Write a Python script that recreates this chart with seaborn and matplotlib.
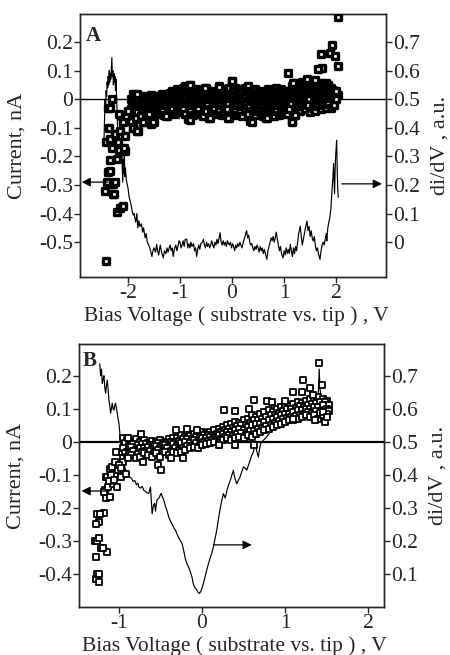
import numpy as np
import pandas as pd
import seaborn as sns
import matplotlib.pyplot as plt

# ---------------- Panel A data ----------------
# I-V scatter: main band, rows on two interleaved bias grids
a_band_v = [-1.95, -1.90, -1.85, -1.80, -1.75, -1.70, -1.65, -1.60, -1.55, -1.50,
            -1.45, -1.40, -1.35, -1.30, -1.25, -1.20, -1.15, -1.10, -1.05, -1.00,
            -0.95, -0.90, -0.85, -0.80, -0.75, -0.70, -0.65, -0.60, -0.55, -0.50,
            -0.45, -0.40, -0.35, -0.30, -0.25, -0.20, -0.15, -0.10, -0.05, 0.00,
            0.05, 0.10, 0.15, 0.20, 0.25, 0.30, 0.35, 0.40, 0.45, 0.50,
            0.55, 0.60, 0.65, 0.70, 0.75, 0.80, 0.85, 0.90, 0.95, 1.00,
            1.05, 1.10, 1.15, 1.20, 1.25, 1.30, 1.35, 1.40, 1.45, 1.50,
            1.55, 1.60, 1.65, 1.70, 1.75, 1.80, 1.85, 1.90, 1.95]
a_band_v2 = [-1.925, -1.875, -1.825, -1.775, -1.725, -1.675, -1.625, -1.575, -1.525, -1.475,
             -1.425, -1.375, -1.325, -1.275, -1.225, -1.175, -1.125, -1.075, -1.025, -0.975,
             -0.925, -0.875, -0.825, -0.775, -0.725, -0.675, -0.625, -0.575, -0.525, -0.475,
             -0.425, -0.375, -0.325, -0.275, -0.225, -0.175, -0.125, -0.075, -0.025, 0.025,
             0.075, 0.125, 0.175, 0.225, 0.275, 0.325, 0.375, 0.425, 0.475, 0.525,
             0.575, 0.625, 0.675, 0.725, 0.775, 0.825, 0.875, 0.925, 0.975, 1.025,
             1.075, 1.125, 1.175, 1.225, 1.275, 1.325, 1.375, 1.425, 1.475, 1.525,
             1.575, 1.625, 1.675, 1.725, 1.775, 1.825, 1.875, 1.925, 1.975]
a_band_hi = [0.000, 0.020, 0.015, 0.010, 0.012, 0.005, 0.010, 0.008, 0.015, 0.010,
             0.006, 0.012, 0.018, 0.010, 0.015, 0.022, 0.030, 0.025, 0.035, 0.030,
             0.040, 0.045, 0.038, 0.050, 0.030, 0.035, 0.028, 0.032, 0.022, 0.040,
             0.030, 0.025, 0.030, 0.020, 0.045, 0.030, 0.035, 0.025, 0.038, 0.065,
             0.040, 0.030, 0.035, 0.025, 0.040, 0.045, 0.030, 0.028, 0.035, 0.025,
             0.030, 0.022, 0.030, 0.035, 0.028, 0.025, 0.040, 0.030, 0.035, 0.028,
             0.030, 0.022, 0.045, 0.055, 0.050, 0.045, 0.060, 0.055, 0.050, 0.045,
             0.040, 0.050, 0.045, 0.055, 0.050, 0.055, 0.050, 0.040, 0.030]
a_band_q = [-0.015, -0.008, 0.000, -0.012, -0.005, -0.010, 0.000, -0.008, 0.004, -0.002,
            0.002, 0.008, 0.000, 0.010, 0.012, 0.008, 0.018, 0.012, 0.020, 0.015,
            0.025, 0.020, 0.015, 0.028, 0.018, 0.012, 0.020, 0.015, 0.010, 0.022,
            0.015, 0.018, 0.012, 0.020, 0.025, 0.015, 0.020, 0.012, 0.018, 0.030,
            0.020, 0.015, 0.022, 0.012, 0.025, 0.018, 0.015, 0.010, 0.020, 0.012,
            0.018, 0.010, 0.015, 0.020, 0.012, 0.018, 0.022, 0.015, 0.020, 0.014,
            0.016, 0.010, 0.025, 0.030, 0.028, 0.025, 0.035, 0.030, 0.032, 0.028,
            0.030, 0.034, 0.032, 0.036, 0.035, 0.038, 0.036, 0.032, 0.028]
a_band_mid = [-0.035, -0.030, -0.025, -0.030, -0.020, -0.025, -0.015, -0.020, -0.010, -0.015,
              -0.010, -0.005, -0.012, -0.008, 0.000, -0.005, 0.005, -0.002, 0.008, 0.000,
              0.010, 0.005, -0.005, 0.012, 0.002, -0.004, 0.006, 0.000, -0.006, 0.008,
              0.000, 0.004, -0.005, 0.006, 0.000, -0.004, 0.008, 0.002, -0.003, 0.010,
              0.004, -0.004, 0.006, 0.000, 0.008, -0.002, 0.005, -0.006, 0.004, 0.000,
              0.006, -0.003, 0.004, 0.000, -0.005, 0.006, 0.002, -0.004, 0.004, 0.000,
              0.006, -0.002, 0.008, 0.004, 0.012, 0.006, 0.014, 0.008, 0.016, 0.010,
              0.018, 0.012, 0.020, 0.015, 0.022, 0.018, 0.025, 0.020, 0.015]
a_band_r = [-0.055, -0.065, -0.045, -0.070, -0.040, -0.050, -0.035, -0.035, -0.045, -0.050,
            -0.030, -0.028, -0.025, -0.032, -0.030, -0.025, -0.018, -0.028, -0.020, -0.025,
            -0.018, -0.025, -0.035, -0.015, -0.028, -0.025, -0.015, -0.028, -0.035, -0.020,
            -0.035, -0.022, -0.020, -0.025, -0.020, -0.030, -0.022, -0.018, -0.035, -0.025,
            -0.020, -0.030, -0.022, -0.035, -0.018, -0.028, -0.045, -0.025, -0.030, -0.020,
            -0.025, -0.035, -0.038, -0.022, -0.028, -0.030, -0.020, -0.032, -0.022, -0.020,
            -0.025, -0.018, -0.040, -0.028, -0.010, -0.018, -0.005, -0.015, 0.000, -0.020,
            -0.008, -0.015, -0.002, -0.012, 0.000, -0.008, 0.004, -0.006, 0.000]
a_band_lo = [-0.075, -0.100, -0.065, -0.110, -0.060, -0.080, -0.055, -0.050, -0.075, -0.080,
             -0.045, -0.050, -0.040, -0.055, -0.060, -0.045, -0.035, -0.050, -0.040, -0.045,
             -0.035, -0.050, -0.070, -0.040, -0.055, -0.045, -0.035, -0.050, -0.060, -0.040,
             -0.065, -0.045, -0.035, -0.050, -0.040, -0.055, -0.045, -0.035, -0.065, -0.050,
             -0.040, -0.055, -0.045, -0.060, -0.040, -0.050, -0.075, -0.045, -0.055, -0.040,
             -0.050, -0.060, -0.065, -0.045, -0.050, -0.060, -0.040, -0.055, -0.045, -0.040,
             -0.050, -0.035, -0.075, -0.055, -0.030, -0.040, -0.025, -0.035, -0.020, -0.045,
             -0.030, -0.040, -0.025, -0.035, -0.020, -0.030, -0.015, -0.030, -0.020]
# I-V scatter: scattered points outside the band
a_extra_v = [-2.42, -2.36, -2.40, -2.44, -2.38, -2.35, -2.29, -2.28, -2.26, -2.25,
             -2.22, -2.22, -2.15, -2.10, -2.06, -2.35, -2.31, -2.17, -2.42, -2.35,
             -2.38, -2.25, -2.15, -2.06, -2.12, -2.20, -2.10, -2.03, -2.00, -2.18,
             -1.90, -1.83, -1.71, -1.55, -1.51, -1.83, -2.35, -2.30, -2.08,
             2.04, 1.92, 1.88, 1.98, 1.71, 2.04, 1.72, 1.66, 1.08, 1.44,
             1.18, 1.21, 1.15, 2.04, 1.99, 2.00, 1.55, 1.60,
             0.38, 0.67, -0.07, -0.42, -0.81, -1.26, -0.81, -0.52, -0.26, 0.00]
a_extra_i = [-0.567, -0.100, -0.290, -0.322, -0.255, -0.214, -0.295, -0.330, -0.330, -0.290,
             -0.210, -0.396, -0.380, -0.373, -0.180, -0.250, -0.170, -0.178, -0.150, -0.140,
             -0.030, -0.120, -0.110, -0.130, -0.060, -0.150, -0.080, -0.060, -0.040, -0.050,
             -0.100, -0.110, -0.080, -0.085, -0.080, 0.020, -0.030, 0.000, -0.170,
             0.287, 0.190, 0.160, 0.150, 0.157, 0.115, 0.110, 0.107, 0.090, 0.070,
             0.057, -0.055, -0.078, 0.016, 0.000, 0.030, 0.060, 0.068,
             -0.078, -0.066, -0.067, -0.066, -0.072, -0.060, 0.050, 0.040, 0.043, 0.065]

# dI/dV trace (right axis, a.u.)
a_didv_v = [-2.46, -2.45, -2.44, -2.43, -2.42, -2.41, -2.40, -2.39, -2.38, -2.37,
            -2.36, -2.35, -2.34, -2.33, -2.32, -2.31, -2.30, -2.29, -2.28, -2.27,
            -2.26, -2.25, -2.24, -2.23, -2.22, -2.21, -2.20, -2.19, -2.18, -2.17,
            -2.16, -2.15, -2.14, -2.13, -2.12, -2.11, -2.10, -2.09, -2.08, -2.07,
            -2.06, -2.05, -2.03, -2.00, -1.98, -1.96, -1.94, -1.92, -1.90, -1.88,
            -1.87, -1.85, -1.83, -1.81, -1.79, -1.77, -1.74, -1.72, -1.70, -1.67,
            -1.65, -1.63, -1.61, -1.58, -1.56, -1.54, -1.52, -1.50, -1.47, -1.45,
            -1.43, -1.41, -1.38, -1.36, -1.34, -1.32, -1.30, -1.27, -1.25, -1.23,
            -1.21, -1.19, -1.17, -1.15, -1.13, -1.11, -1.08, -1.06, -1.04, -1.02,
            -1.00, -0.98, -0.96, -0.94, -0.92, -0.90, -0.87, -0.85, -0.83, -0.81,
            -0.79, -0.77, -0.74, -0.72, -0.70, -0.68, -0.66, -0.64, -0.62, -0.60,
            -0.57, -0.55, -0.53, -0.51, -0.49, -0.47, -0.45, -0.43, -0.41, -0.39,
            -0.37, -0.35, -0.33, -0.31, -0.29, -0.27, -0.25, -0.23, -0.21, -0.19,
            -0.17, -0.15, -0.13, -0.11, -0.09, -0.07, -0.05, -0.03, -0.01, 0.01,
            0.03, 0.05, 0.07, 0.09, 0.11, 0.13, 0.15, 0.17, 0.19, 0.21,
            0.23, 0.25, 0.27, 0.28, 0.30, 0.32, 0.34, 0.36, 0.38, 0.40,
            0.42, 0.44, 0.46, 0.48, 0.50, 0.52, 0.54, 0.56, 0.58, 0.60,
            0.62, 0.64, 0.67, 0.69, 0.71, 0.73, 0.75, 0.77, 0.79, 0.81,
            0.83, 0.85, 0.87, 0.89, 0.91, 0.93, 0.95, 0.98, 1.00, 1.02,
            1.04, 1.06, 1.08, 1.10, 1.12, 1.14, 1.16, 1.18, 1.20, 1.22,
            1.24, 1.26, 1.28, 1.31, 1.33, 1.35, 1.37, 1.39, 1.41, 1.44,
            1.46, 1.48, 1.50, 1.52, 1.54, 1.56, 1.58, 1.60, 1.62, 1.64,
            1.66, 1.69, 1.71, 1.73, 1.75, 1.77, 1.79, 1.81, 1.82, 1.84,
            1.86, 1.88, 1.90, 1.92, 1.94, 1.95, 1.96, 1.97, 1.98, 1.99,
            2.00, 2.01, 2.02, 2.03, 2.04]
a_didv = [0.36, 0.43, 0.50, 0.47, 0.53, 0.51, 0.56, 0.54, 0.58, 0.55,
          0.60, 0.56, 0.59, 0.57, 0.61, 0.645, 0.58, 0.60, 0.55, 0.59,
          0.56, 0.58, 0.53, 0.57, 0.52, 0.46, 0.40, 0.35, 0.37, 0.33,
          0.36, 0.31, 0.34, 0.29, 0.32, 0.26, 0.21, 0.29, 0.24, 0.31,
          0.23, 0.26, 0.215, 0.19, 0.16, 0.145, 0.13, 0.11, 0.095, 0.10,
          0.086, 0.07, 0.10, 0.05, 0.075, 0.055, 0.064, 0.035, 0.05, 0.015,
          0.03, 0.00, -0.007, -0.02, -0.035, -0.05, -0.03, -0.02, -0.035, -0.007,
          -0.03, -0.045, -0.01, -0.03, -0.045, -0.055, -0.03, -0.04, -0.02, -0.035,
          -0.02, -0.01, -0.03, -0.02, -0.05, -0.025, -0.01, -0.03, -0.015, 0.005,
          0.0, -0.02, -0.01, 0.005, -0.015, 0.01, 0.01, -0.02, -0.005, -0.02,
          0.0, -0.015, -0.005, -0.03, -0.02, -0.05, -0.025, -0.01, -0.025, -0.005,
          0.0, 0.01, -0.01, -0.02, 0.0, -0.015, -0.005, -0.02, -0.01, 0.005,
          -0.01, -0.02, 0.0, -0.01, 0.01, -0.005, 0.015, 0.033, 0.0, -0.01,
          0.005, -0.01, 0.0, -0.015, 0.005, -0.005, -0.01, 0.0, -0.02, -0.005,
          -0.015, -0.03, -0.01, -0.02, -0.005, -0.015, 0.0, -0.01, -0.02, -0.005,
          0.01, 0.02, 0.035, 0.04, 0.015, 0.025, 0.0, -0.01, -0.005, -0.02,
          -0.03, -0.015, -0.025, -0.01, -0.02, -0.035, -0.015, -0.03, -0.02, -0.04,
          -0.025, -0.04, -0.06, -0.03, -0.015, 0.0, 0.015, 0.005, 0.02, 0.0,
          0.015, 0.035, 0.01, -0.01, -0.03, -0.015, -0.04, -0.055, -0.03, -0.045,
          -0.02, -0.04, -0.025, -0.04, -0.007, -0.03, -0.05, -0.02, -0.04, -0.015,
          -0.03, 0.0, 0.03, 0.056, 0.02, -0.01, 0.01, 0.03, 0.05, 0.074,
          0.04, 0.055, 0.02, 0.04, 0.015, 0.004, 0.02, -0.01, -0.03, -0.02,
          -0.04, -0.06, -0.03, -0.01, 0.0, -0.01, 0.01, 0.03, 0.004, 0.05,
          0.07, 0.086, 0.12, 0.18, 0.23, 0.275, 0.22, 0.17, 0.25, 0.30,
          0.33, 0.357, 0.26, 0.19, 0.157]

# ---------------- Panel B data ----------------
b_band_v = [-0.95, -0.90, -0.85, -0.80, -0.75, -0.70, -0.65, -0.60, -0.55, -0.50,
            -0.45, -0.40, -0.35, -0.30, -0.25, -0.20, -0.15, -0.10, -0.05, 0.00,
            0.05, 0.10, 0.15, 0.20, 0.25, 0.30, 0.35, 0.40, 0.45, 0.50,
            0.55, 0.60, 0.65, 0.70, 0.75, 0.80, 0.85, 0.90, 0.95, 1.00,
            1.05, 1.10, 1.15, 1.20, 1.25, 1.30, 1.35, 1.40, 1.45, 1.50]
b_band_v2 = [-0.925, -0.875, -0.825, -0.775, -0.725, -0.675, -0.625, -0.575, -0.525, -0.475,
             -0.425, -0.375, -0.325, -0.275, -0.225, -0.175, -0.125, -0.075, -0.025, 0.025,
             0.075, 0.125, 0.175, 0.225, 0.275, 0.325, 0.375, 0.425, 0.475, 0.525,
             0.575, 0.625, 0.675, 0.725, 0.775, 0.825, 0.875, 0.925, 0.975, 1.025,
             1.075, 1.125, 1.175, 1.225, 1.275, 1.325, 1.375, 1.425, 1.475, 1.525]
b_band_hi = [0.010, 0.005, 0.000, 0.008, 0.000, 0.005, -0.005, 0.002, 0.000, 0.005,
             -0.002, 0.008, 0.010, 0.012, 0.020, 0.015, 0.018, 0.025, 0.022, 0.030,
             0.028, 0.030, 0.035, 0.040, 0.045, 0.050, 0.055, 0.060, 0.058, 0.065,
             0.070, 0.080, 0.075, 0.085, 0.090, 0.095, 0.090, 0.100, 0.105, 0.110,
             0.108, 0.115, 0.120, 0.118, 0.125, 0.130, 0.128, 0.135, 0.130, 0.125]
b_band_q = [-0.005, -0.012, -0.008, -0.010, -0.008, -0.006, -0.010, -0.010, -0.005, -0.008,
            -0.005, -0.002, 0.000, 0.002, 0.008, 0.008, 0.006, 0.015, 0.010, 0.020,
            0.020, 0.022, 0.024, 0.030, 0.035, 0.040, 0.042, 0.048, 0.050, 0.050,
            0.058, 0.065, 0.065, 0.070, 0.075, 0.080, 0.080, 0.088, 0.092, 0.098,
            0.098, 0.102, 0.108, 0.106, 0.112, 0.115, 0.116, 0.120, 0.120, 0.112]
b_band_mid = [-0.020, -0.030, -0.015, -0.025, -0.018, -0.020, -0.015, -0.022, -0.012, -0.020,
              -0.010, -0.015, -0.008, -0.012, -0.005, 0.000, -0.005, 0.005, 0.000, 0.010,
              0.012, 0.015, 0.010, 0.020, 0.025, 0.030, 0.030, 0.035, 0.040, 0.035,
              0.045, 0.050, 0.055, 0.055, 0.060, 0.065, 0.070, 0.075, 0.080, 0.085,
              0.085, 0.090, 0.095, 0.095, 0.100, 0.100, 0.105, 0.105, 0.110, 0.100]
b_band_r = [-0.035, -0.038, -0.028, -0.038, -0.032, -0.028, -0.028, -0.034, -0.024, -0.032,
            -0.020, -0.028, -0.020, -0.024, -0.018, -0.012, -0.012, -0.005, -0.010, 0.000,
            0.002, 0.005, 0.005, 0.008, 0.015, 0.020, 0.018, 0.024, 0.028, 0.022,
            0.032, 0.032, 0.040, 0.042, 0.048, 0.052, 0.058, 0.062, 0.068, 0.072,
            0.075, 0.078, 0.082, 0.085, 0.090, 0.088, 0.092, 0.088, 0.095, 0.092]
b_band_lo = [-0.050, -0.045, -0.040, -0.050, -0.045, -0.035, -0.040, -0.045, -0.035, -0.045,
             -0.030, -0.040, -0.030, -0.035, -0.030, -0.025, -0.020, -0.015, -0.020, -0.010,
             -0.008, -0.005, 0.000, -0.005, 0.005, 0.010, 0.005, 0.012, 0.015, 0.010,
             0.020, 0.015, 0.025, 0.030, 0.035, 0.040, 0.045, 0.050, 0.055, 0.060,
             0.065, 0.065, 0.070, 0.075, 0.080, 0.075, 0.080, 0.070, 0.080, 0.085]
b_extra_v = [-1.27, -1.26, -1.24, -1.24, -1.28, -1.29, -1.26, -1.22, -1.14, -1.19,
             -1.24, -1.26, -1.18, -1.24, -1.27, -1.23, -1.15, -1.11, -1.17, -1.18,
             -1.13, -1.07, -1.02, -1.15, -1.14, -1.05, -1.11, -1.08, -1.01, -0.97,
             -0.91, -1.05, -1.03, -0.95, -0.89, -1.09, -1.12, -1.06, -1.00, -0.98,
             -0.73, -0.89, -0.31, -0.18, -0.06, 0.27, 0.40, 0.56, 0.62, 0.78,
             0.84, 1.00, 1.10, 1.20, 1.22, 1.30, 1.41, 1.44, 1.34, -0.53,
             -0.49, -0.71, -0.37, -0.23, 0.20, 0.40, 0.62, 1.10, 1.36, 1.48,
             1.45, 1.50]
b_extra_i = [-0.415, -0.400, -0.425, -0.400, -0.350, -0.300, -0.300, -0.320, -0.334, -0.320,
             -0.290, -0.218, -0.217, -0.243, -0.250, -0.220, -0.170, -0.167, -0.147, -0.152,
             -0.137, -0.127, -0.137, -0.106, -0.106, -0.096, -0.081, -0.076, -0.086, -0.106,
             -0.096, -0.061, -0.030, -0.060, -0.050, -0.100, -0.120, -0.115, -0.070, -0.080,
             0.023, 0.013, 0.037, 0.040, 0.037, 0.096, 0.094, 0.098, 0.126, 0.123,
             0.121, 0.123, 0.152, 0.152, 0.187, 0.162, 0.238, 0.172, 0.141, -0.071,
             -0.086, -0.061, -0.050, -0.050, -0.010, -0.010, -0.010, 0.070, 0.065, 0.060,
             0.090, 0.075]

b_didv_v = [-1.23, -1.22, -1.21, -1.20, -1.19, -1.18, -1.17, -1.16, -1.15, -1.14,
            -1.13, -1.12, -1.11, -1.10, -1.09, -1.08, -1.07, -1.06, -1.05, -1.04,
            -1.03, -1.02, -1.01, -1.00, -0.99, -0.975, -0.96, -0.95, -0.93, -0.91,
            -0.89, -0.87, -0.85, -0.83, -0.81, -0.79, -0.77, -0.76, -0.74, -0.72,
            -0.70, -0.68, -0.66, -0.64, -0.63, -0.62, -0.61, -0.60, -0.59, -0.58,
            -0.57, -0.56, -0.55, -0.54, -0.52, -0.50, -0.49, -0.48, -0.46, -0.44,
            -0.42, -0.40, -0.38, -0.36, -0.34, -0.32, -0.30, -0.28, -0.26, -0.24,
            -0.22, -0.20, -0.18, -0.16, -0.145, -0.12, -0.105, -0.09, -0.07, -0.05,
            -0.03, -0.01, 0.016, 0.035, 0.055, 0.076, 0.10, 0.12, 0.136, 0.155,
            0.177, 0.20, 0.22, 0.24, 0.257, 0.28, 0.30, 0.32, 0.34, 0.36,
            0.377, 0.395, 0.418, 0.44, 0.458, 0.48, 0.498, 0.52, 0.538, 0.56,
            0.578, 0.60, 0.618, 0.63, 0.64, 0.66, 0.678, 0.69, 0.707, 0.74,
            0.78, 0.82, 0.86, 0.90, 0.94, 0.98, 1.02, 1.06, 1.10, 1.14,
            1.18, 1.22, 1.26, 1.30, 1.34, 1.38, 1.40, 1.41, 1.42, 1.45,
            1.48, 1.50]
b_didv = [0.736, 0.70, 0.72, 0.677, 0.69, 0.70, 0.665, 0.647, 0.67, 0.687,
          0.66, 0.626, 0.61, 0.587, 0.60, 0.617, 0.60, 0.596, 0.61, 0.617,
          0.60, 0.587, 0.57, 0.556, 0.53, 0.485, 0.46, 0.445, 0.424, 0.41,
          0.40, 0.393, 0.39, 0.38, 0.383, 0.37, 0.375, 0.363, 0.36, 0.365,
          0.353, 0.35, 0.345, 0.344, 0.355, 0.363, 0.32, 0.282, 0.30, 0.31,
          0.314, 0.29, 0.31, 0.325, 0.329, 0.34, 0.344, 0.335, 0.323, 0.305,
          0.29, 0.272, 0.26, 0.25, 0.24, 0.232, 0.22, 0.21, 0.20, 0.192,
          0.17, 0.145, 0.13, 0.12, 0.11, 0.09, 0.07, 0.06, 0.055, 0.045,
          0.041, 0.05, 0.07, 0.09, 0.11, 0.13, 0.15, 0.165, 0.181, 0.205,
          0.232, 0.27, 0.30, 0.325, 0.343, 0.33, 0.353, 0.37, 0.383, 0.40,
          0.414, 0.39, 0.373, 0.385, 0.394, 0.41, 0.424, 0.42, 0.414, 0.43,
          0.444, 0.46, 0.469, 0.485, 0.495, 0.47, 0.454, 0.475, 0.496, 0.505,
          0.515, 0.53, 0.54, 0.555, 0.56, 0.57, 0.575, 0.56, 0.585, 0.59,
          0.60, 0.58, 0.605, 0.595, 0.61, 0.63, 0.65, 0.72, 0.66, 0.60,
          0.62, 0.59]

xlabel = "Bias Voltage ( substrate vs. tip ) , V"

sns.set_style("ticks")
plt.rcParams['font.family'] = ['Liberation Serif', 'DejaVu Serif']
plt.rcParams['axes.unicode_minus'] = False

fig = plt.figure(figsize=(4.5, 6.55), dpi=100)


def make_scatter_df(groups, extra_v, extra_i):
    vs, cs = [], []
    for v, r in groups:
        vs += list(v)
        cs += list(r)
    vs += list(extra_v)
    cs += list(extra_i)
    return pd.DataFrame({"V": vs, "I": cs})


def panel(rect, iv_df, didv_v, didv, xlim, ylim, xticks, lticks, rticks,
          letter, letter_xy, arrows, mk_lw, mk_s, zero_lw):
    ax = fig.add_axes(rect)
    ax2 = ax.twinx()
    # dI/dV trace on the right axis (offset by 0.5 from left axis)
    sns.lineplot(x=didv_v, y=didv, ax=ax2, color="black", lw=0.85,
                 estimator=None, sort=False, zorder=2)
    ax2.set_ylim(ylim[0] + 0.5, ylim[1] + 0.5)
    ax.set_zorder(ax2.get_zorder() + 1)
    ax.patch.set_visible(False)
    ax.axhline(0, color="black", lw=zero_lw, zorder=1)
    sns.scatterplot(data=iv_df, x="V", y="I", ax=ax, marker="s", s=mk_s,
                    facecolor="white", edgecolor="black", linewidth=mk_lw,
                    zorder=3, legend=False)
    ax.set_xlim(*xlim)
    ax.set_ylim(*ylim)
    ax.set_xticks(xticks)
    ax.set_xticklabels([f"{t:g}" for t in xticks])
    ax.set_yticks(lticks)
    ax.set_yticklabels([f"{t:g}" for t in lticks])
    ax2.set_yticks(rticks)
    ax2.set_yticklabels([f"{t:g}" for t in rticks])
    for a in (ax, ax2):
        a.tick_params(direction="out", length=4, width=1, labelsize=15.5, pad=1)
        for sp in a.spines.values():
            sp.set_visible(True)
            sp.set_linewidth(1.0)
    ax.set_xlabel(xlabel, fontsize=15.5)
    ax.set_ylabel("Current, nA", fontsize=16)
    ax2.set_ylabel("di/dV , a.u.", fontsize=16, rotation=90)
    ax.xaxis.set_label_coords(0.51, -0.11)
    ax.yaxis.set_label_coords(-0.175, 0.5)
    ax2.yaxis.set_label_coords(1.145, 0.5)
    ax.text(letter_xy[0], letter_xy[1], letter, transform=ax.transAxes,
            fontsize=15, fontweight="bold", va="top", ha="left")
    for (x0, x1, y) in arrows:
        ax.annotate("", xy=(x1, y), xytext=(x0, y),
                    arrowprops=dict(arrowstyle="-|>", color="black", lw=0.9,
                                    mutation_scale=13, shrinkA=0, shrinkB=0))
    return ax, ax2


df_a = make_scatter_df([(a_band_v, a_band_hi), (a_band_v2, a_band_q), (a_band_v, a_band_mid),
                        (a_band_v2, a_band_r), (a_band_v, a_band_lo)],
                       a_extra_v, a_extra_i)
df_b = make_scatter_df([(b_band_v, b_band_hi), (b_band_v2, b_band_q), (b_band_v, b_band_mid),
                        (b_band_v2, b_band_r), (b_band_v, b_band_lo)],
                       b_extra_v, b_extra_i)

panel([0.178, 0.577, 0.680, 0.4016], df_a, a_didv_v, a_didv,
      (-2.92, 2.96), (-0.622, 0.298), [-2, -1, 0, 1, 2],
      [0.2, 0.1, 0, -0.1, -0.2, -0.3, -0.4, -0.5],
      [0.7, 0.6, 0.5, 0.4, 0.3, 0.2, 0.1, 0],
      "A", (0.02, 0.955),
      [(-2.39, -2.89, -0.29), (2.11, 2.88, -0.296)], 2.4, 13, 1.0)

panel([0.1756, 0.0733, 0.6778, 0.4015], df_b, b_didv_v, b_didv,
      (-1.48, 2.19), (-0.50, 0.296), [-1, 0, 1, 2],
      [0.2, 0.1, 0, -0.1, -0.2, -0.3, -0.4],
      [0.7, 0.6, 0.5, 0.4, 0.3, 0.2, 0.1],
      "B", (0.012, 0.975),
      [(-1.11, -1.45, -0.149), (0.136, 0.598, -0.312)], 1.3, 20, 1.6)

fig.savefig("out.png", dpi=100)
